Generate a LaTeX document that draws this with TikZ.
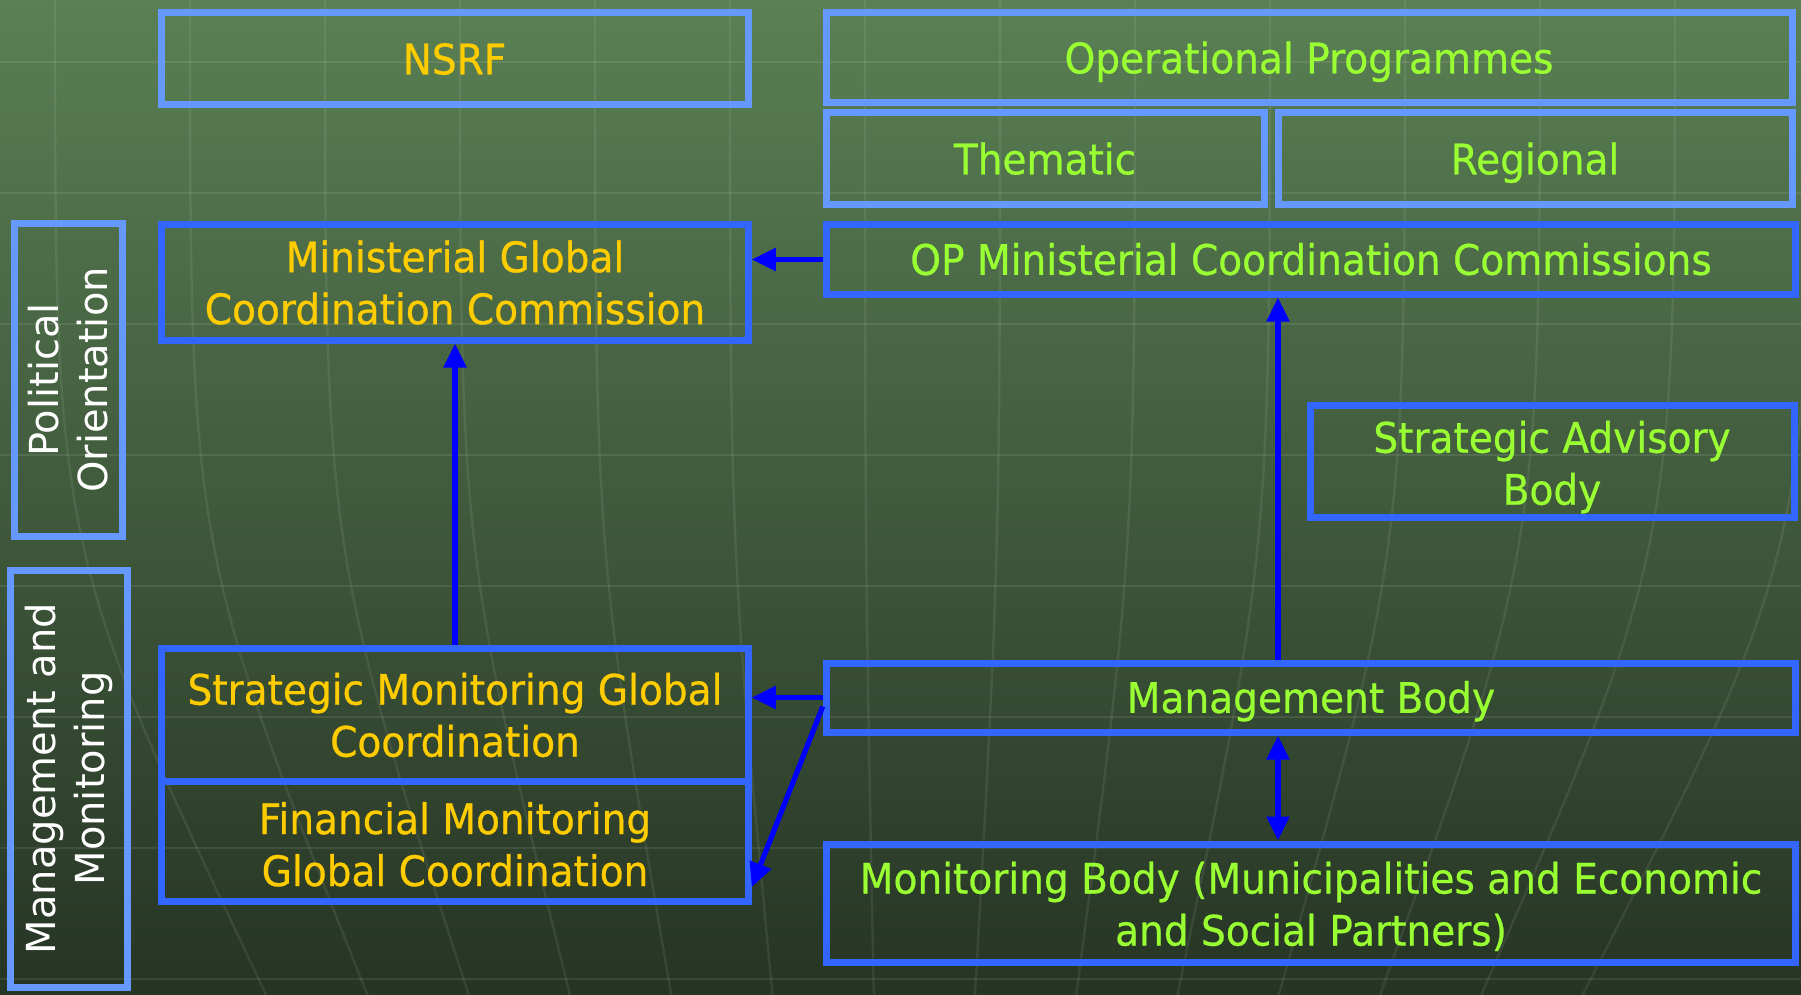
\documentclass[tikz,border=0pt]{standalone}
\usepackage{fontspec}
\setmainfont{DejaVu Sans}
\newfontfamily\boxfont{DejaVu Sans}[FakeStretch=0.93, FakeBold=0.6]
\usetikzlibrary{arrows.meta}

\definecolor{bgtop}{RGB}{90,128,84}
\definecolor{bgmid}{RGB}{70,100,63}
\definecolor{bgbot}{RGB}{38,52,36}
\definecolor{framelight}{RGB}{102,153,255}
\definecolor{boxblue}{RGB}{51,102,255}
\definecolor{arrowblue}{RGB}{0,0,255}
\definecolor{gold}{RGB}{255,204,0}
\definecolor{lime}{RGB}{153,255,51}

\begin{document}
\begin{tikzpicture}[x=0.5pt, y=-0.5pt,
  >={Triangle[length=12pt,width=11pt]},
  gridline/.style={draw=white, opacity=0.09, line width=1.4pt},
  meridian/.style={draw=white, opacity=0.08, line width=1.2pt},
  lightbox/.style={rectangle, draw=framelight, line width=3.5pt, inner sep=0pt,
    align=center, font=\boxfont\fontsize{21}{26}\selectfont},
  bluebox/.style={rectangle, draw=boxblue, line width=3.5pt, inner sep=0pt,
    align=center, font=\boxfont\fontsize{21}{26}\selectfont},
  oneline/.style={text height=20pt, text depth=4.7pt},
  sidebox/.style={rectangle, draw=framelight, line width=3.5pt, inner sep=0pt,
    align=center, rotate=90, text=white, font=\fontsize{20}{24.5}\selectfont},
  link/.style={draw=arrowblue, line width=2.6pt}]

  % background
  \useasboundingbox (0,0) rectangle (1801,995);
  \shade[top color=bgtop, middle color=bgmid, bottom color=bgbot] (0,0) rectangle (1801,995);
  \begin{scope}
    \clip (0,0) rectangle (1801,995);
    \foreach \gy in {62,193,...,995}
      \draw[gridline] (0,\gy) -- (1801,\gy);
    \foreach \mx in {55,190,...,1810}
      \draw[meridian] (\mx,0) .. controls (\mx,550) .. ({\mx+(900-\mx)*0.25},995);
  \end{scope}

  % top row
  \node[lightbox, oneline, text=gold, minimum width=293.5pt, minimum height=46pt] (nsrf) at (454.5,59) {NSRF};
  \node[lightbox, oneline, text=lime, minimum width=483pt, minimum height=45pt] (op) at (1309,58) {Operational Programmes};
  \node[lightbox, oneline, text=lime, minimum width=219pt, minimum height=46pt] (them) at (1045,159) {Thematic};
  \node[lightbox, oneline, text=lime, minimum width=257pt, minimum height=46pt] (reg) at (1535,159) {Regional};

  % side labels
  \node[sidebox, minimum width=156pt, minimum height=54pt] (polit) at (68,380) {Political\\Orientation};
  \node[sidebox, minimum width=208.5pt, minimum height=58.5pt] (mgmt) at (68.5,778.5) {Management and\\Monitoring};

  % commissions and bodies
  \node[bluebox, text=gold, minimum width=293.25pt, minimum height=57.5pt] (mgcc) at (455,282.5) {Ministerial Global\\Coordination Commission};
  \node[bluebox, oneline, text=lime, minimum width=484.75pt, minimum height=34.5pt] (opmcc) at (1311,259.5) {OP Ministerial Coordination Commissions};
  \node[bluebox, text=lime, minimum width=242pt, minimum height=56pt] (sab) at (1552,461) {\rule{0pt}{1.05em}Strategic Advisory\\Body};
  \node[bluebox, text=gold, minimum width=293.25pt, minimum height=66.25pt] (smgc) at (455,715) {Strategic Monitoring Global\\Coordination};
  \node[bluebox, text=gold, minimum width=293.25pt, minimum height=60pt] (fmgc) at (455,841) {\rule{0pt}{0.92em}Financial Monitoring\\Global Coordination};
  \node[bluebox, oneline, text=lime, minimum width=484.75pt, minimum height=34.5pt] (mb) at (1311,697.5) {Management Body};
  \node[bluebox, text=lime, minimum width=484.75pt, minimum height=59pt] (mob) at (1311,903) {\rule{0pt}{0.92em}Monitoring Body (Municipalities and Economic\\and Social Partners)};

  % arrows
  \draw[link, ->] (opmcc.west) -- (mgcc.east |- opmcc.west);
  \draw[link, ->] (smgc.north) -- (mgcc.south);
  \draw[link, ->] ([xshift=-16.5pt]mb.north) -- ([xshift=-16.5pt]opmcc.south);
  \draw[link, ->] (mb.west) -- (mb.west -| smgc.east);
  \draw[link, ->] ([yshift=-4.5pt]mb.west) -- ([yshift=-23pt]fmgc.east);
  \draw[link, <->] ([xshift=-16.5pt]mb.south) -- ([xshift=-16.5pt]mob.north);
\end{tikzpicture}
\end{document}
